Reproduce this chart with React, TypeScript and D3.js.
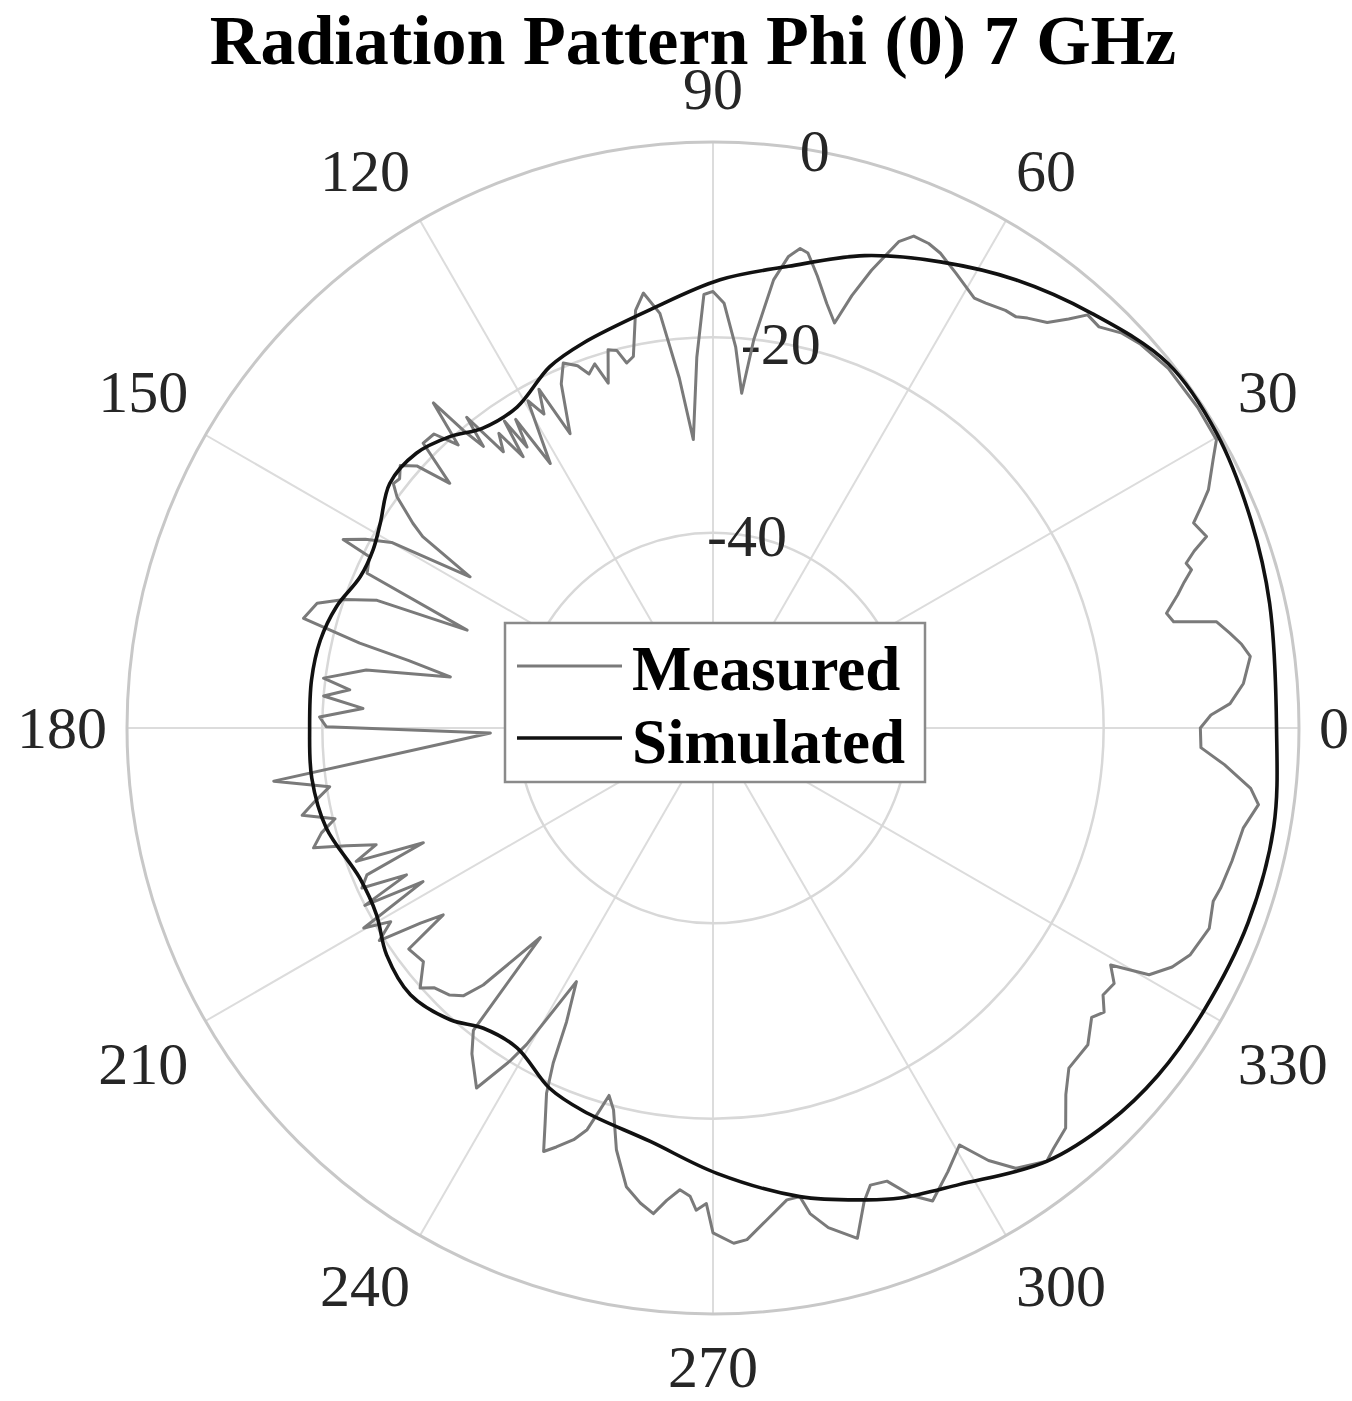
import React from "react";
import * as d3 from "d3";

// ---- data (angle in degrees, value in dB) ----
const simAngles = [0, 12.6, 21.1, 30.3, 38.7, 47.6, 55.9, 64, 72.2, 80.7, 89.1, 98.6, 108.6, 114.3, 121.4, 127.5, 132.1, 137.2, 142.9, 148.4, 152.3, 156.8, 162.1, 167.4, 173.2, 180, 187.1, 194.5, 203, 209, 214.8, 221.4, 228, 232.6, 238.5, 245.6, 251.3, 261.3, 270.5, 280.5, 288, 291.7, 298.3, 307.6, 315, 322, 330, 340, 350];
const simDb = [-2.3, -1.6, -0.95, -0.25, -0.3, -2.5, -4.6, -6.9, -9.2, -12.1, -14.1, -16.7, -18.4, -19.4, -21.5, -21.3, -19.8, -18.6, -18.5, -20.0, -20.7, -20.7, -19.5, -18.8, -18.6, -18.7, -18.6, -19.1, -20.7, -20.6, -19.3, -18.7, -19.8, -21.3, -21.6, -19.5, -18.6, -17.2, -14.4, -11.2, -9.2, -8.2, -6.9, -4.0, -2.8, -2.2, -2.0, -1.7, -1.7];

const measAngles = [0, 1.5, 2.7, 4.8, 7.6, 9, 10.4, 11.9, 13, 14.2, 16, 17.2, 18.3, 19.2, 20.2, 21.2, 23.1, 24.5, 25.7, 28.2, 29.8, 33.5, 38.3, 42, 44, 46.1, 47.8, 49, 50.5, 52.5, 53.6, 55, 57.3, 58.7, 61.9, 64.4, 66, 67.8, 69.1, 70.9, 72.2, 73.3, 75, 77, 78.7, 79.7, 80.9, 82.3, 84, 85.1, 86.6, 88.5, 90, 91.2, 92.5, 93.9, 95.5, 97.3, 99.1, 100.5, 102.1, 103.3, 104.3, 105.5, 106.9, 108, 109.3, 110.5, 112.3, 113.8, 115.9, 117.2, 118.3, 119.5, 121.6, 122.6, 123.5, 124.2, 125, 126, 127.2, 128.4, 129.2, 130, 130.7, 132, 133.5, 135.5, 137.1, 138.5, 140, 141.5, 142.6, 143.8, 145.7, 146.6, 148.1, 150, 151.5, 153, 153.5, 155.9, 158.3, 159.2, 160.8, 162.5, 165, 166.5, 167.5, 169, 170.5, 172.7, 174, 175.3, 176.8, 178.4, 179.8, 181.3, 186.9, 188.7, 190.5, 192, 193.5, 195, 196.7, 197.8, 199.1, 200.5, 201.6, 203, 204.5, 205.6, 207, 207.9, 209.8, 211, 212.5, 213.7, 214.7, 216, 218.9, 221.6, 223, 225.4, 227, 228.2, 230.5, 231.6, 233.5, 236.7, 238.6, 239.5, 241.7, 243.5, 244.5, 245.5, 247, 248.2, 249.5, 251.3, 252.6, 253.5, 254.2, 255.4, 257.1, 259.3, 261.3, 263, 264.4, 265.9, 267.2, 268, 269.2, 270, 272.3, 273.8, 276.2, 278.9, 280.5, 281.3, 283, 285.8, 287.7, 289, 291, 293, 294.9, 297.9, 300.6, 302.5, 304.5, 307.6, 309, 311.4, 313.9, 316.3, 319.8, 322.6, 324, 325.6, 327.5, 329.2, 330.5, 332.5, 334.6, 338, 340.9, 342.5, 345.6, 349.3, 352, 353.6, 355.9, 357.7];
const measDb = [-10.1, -9.0, -7.0, -5.5, -4.5, -5.2, -6.2, -7.3, -11.6, -12.1, -10.5, -9.5, -8.4, -8.7, -7.5, -5.8, -6.5, -5.0, -3.7, -1.9, -0.6, -0.5, -0.6, -1.2, -1.8, -3.0, -2.9, -4.5, -6.2, -7.1, -7.7, -7.8, -8.3, -8.5, -7.2, -6.1, -5.7, -5.6, -6.7, -10.4, -13.5, -16.7, -15.0, -12.5, -10.4, -10.1, -11.1, -13.7, -20.0, -25.6, -20.9, -16.5, -15.3, -15.6, -22.0, -30.4, -24.0, -17.2, -14.9, -16.5, -21.1, -21.6, -20.1, -19.8, -23.1, -20.8, -21.6, -20.4, -19.6, -21.5, -26.5, -21.0, -23.5, -21.5, -28.2, -22.5, -25.5, -22.0, -26.1, -22.7, -24.5, -19.4, -22.8, -20.2, -16.1, -21.0, -18.5, -18.4, -23.2, -19.5, -18.2, -19.0, -18.8, -19.9, -22.8, -24.4, -30.7, -22.0, -19.5, -17.5, -20.7, -21.2, -32.9, -23.2, -20.0, -17.5, -16.6, -22.8, -28.1, -32.6, -24.0, -19.8, -22.6, -20.0, -24.1, -19.7, -20.4, -37.2, -14.7, -20.3, -18.5, -17.0, -20.2, -18.5, -17.3, -20.6, -23.5, -21.0, -28.1, -21.5, -20.5, -25.2, -20.0, -26.4, -18.8, -21.5, -19.5, -24.0, -26.4, -21.5, -21.9, -19.9, -21.0, -21.6, -22.5, -24.7, -32.2, -20.5, -18.5, -15.9, -20.0, -22.4, -30.5, -26.4, -22.0, -18.9, -16.0, -13.3, -14.2, -15.5, -16.9, -19.2, -20.9, -19.6, -15.7, -12.2, -10.8, -9.9, -11.4, -12.6, -12.0, -10.6, -11.3, -8.3, -7.2, -7.5, -9.3, -11.1, -11.2, -9.3, -7.5, -5.7, -9.1, -10.5, -10.3, -8.0, -6.6, -8.6, -10.4, -7.5, -5.3, -4.0, -4.6, -5.4, -7.9, -9.6, -9.75, -11.2, -10.5, -11.6, -11.3, -12.6, -8.7, -7.0, -5.9, -5.2, -5.8, -5.5, -5.15, -4.75, -3.6, -4.6, -7.5, -10.0];

const thetaTicks = [0, 30, 60, 90, 120, 150, 180, 210, 240, 270, 300, 330];
const rTicks = [-60, -40, -20, 0];
const rTickLabels = ["-40", "-20", "0"];
const legendItems = ["Measured", "Simulated"];
const titleText = "Radiation Pattern Phi (0) 7 GHz";

const W = 1352, H = 1401;
const cx = 713, cy = 728, R = 586;
const SERIF = "'Liberation Serif', 'Times New Roman', serif";

export default function App() {
  const r = d3.scaleLinear().domain([-60, 0]).range([0, R]);
  const toRad = (deg: number) => (deg * Math.PI) / 180;

  const radial = d3
    .lineRadial<{ a: number; v: number }>()
    .angle((d) => toRad(90 - d.a))
    .radius((d) => r(d.v));

  const simData = simAngles.map((a, i) => ({ a, v: simDb[i] }));
  const measData = measAngles.map((a, i) => ({ a, v: measDb[i] }));

  const simPath = radial.curve(d3.curveCatmullRomClosed.alpha(0.5))(simData) || "";
  const measPath = radial.curve(d3.curveLinearClosed)(measData) || "";

  const fs = 60;
  const gap = 20;

  return (
    <svg
      width={W}
      height={H}
      style={{ position: "absolute", left: 0, top: 0, background: "#fff" }}
      fontFamily={SERIF}
    >
      <rect x={0} y={0} width={W} height={H} fill="#fff" />
      {/* spokes */}
      {thetaTicks.map((t) => (
        <line
          key={"s" + t}
          x1={cx}
          y1={cy}
          x2={cx + R * Math.cos(toRad(t))}
          y2={cy - R * Math.sin(toRad(t))}
          stroke="#dcdcdc"
          strokeWidth={2}
        />
      ))}
      {/* rings */}
      {rTicks.slice(1).map((t) => (
        <circle
          key={"c" + t}
          cx={cx}
          cy={cy}
          r={r(t)}
          fill="none"
          stroke={t === 0 ? "#c8c8c8" : "#d8d8d8"}
          strokeWidth={t === 0 ? 3 : 2.5}
        />
      ))}
      {/* theta labels */}
      {thetaTicks.map((t) => {
        const c = Math.cos(toRad(t));
        const s = Math.sin(toRad(t));
        const px = cx + (R + gap) * c;
        const py = cy - (R + gap) * s;
        const anchor = c > 0.01 ? "start" : c < -0.01 ? "end" : "middle";
        const centerY = s > 0.01 ? py - 33 : s < -0.01 ? py + 33 : py;
        return (
          <text
            key={"tl" + t}
            x={px}
            y={centerY + 0.34 * fs}
            textAnchor={anchor}
            fontSize={fs}
            fill="#262626"
          >
            {t}
          </text>
        );
      })}
      {/* r labels at 80 deg */}
      {rTicks.slice(1).map((t, i) => {
        const rr = r(t);
        const px = cx + rr * Math.cos(toRad(80));
        const py = cy - rr * Math.sin(toRad(80));
        return (
          <text
            key={"rl" + t}
            x={px}
            y={py + 0.34 * fs}
            textAnchor="middle"
            fontSize={fs}
            fill="#262626"
          >
            {rTickLabels[i]}
          </text>
        );
      })}
      {/* data */}
      <g transform={`translate(${cx},${cy})`}>
        <path d={measPath} fill="none" stroke="#7a7a7a" strokeWidth={3} strokeLinejoin="round" />
        <path d={simPath} fill="none" stroke="#111" strokeWidth={3.6} />
      </g>
      {/* legend */}
      <rect x={505} y={623} width={420} height={159} fill="#fff" stroke="#8a8a8a" strokeWidth={2.5} />
      {legendItems.map((name, i) => (
        <g key={name}>
          <line
            x1={517}
            x2={622}
            y1={666 + i * 72}
            y2={666 + i * 72}
            stroke={i === 0 ? "#7a7a7a" : "#111"}
            strokeWidth={i === 0 ? 3 : 3.6}
          />
          <text x={632} y={690 + i * 73} fontSize={63} fontWeight="bold" fill="#000">
            {name}
          </text>
        </g>
      ))}
      {/* title */}
      <text x={693} y={64} textAnchor="middle" fontSize={70} fontWeight="bold" fill="#000">
        {titleText}
      </text>
    </svg>
  );
}
